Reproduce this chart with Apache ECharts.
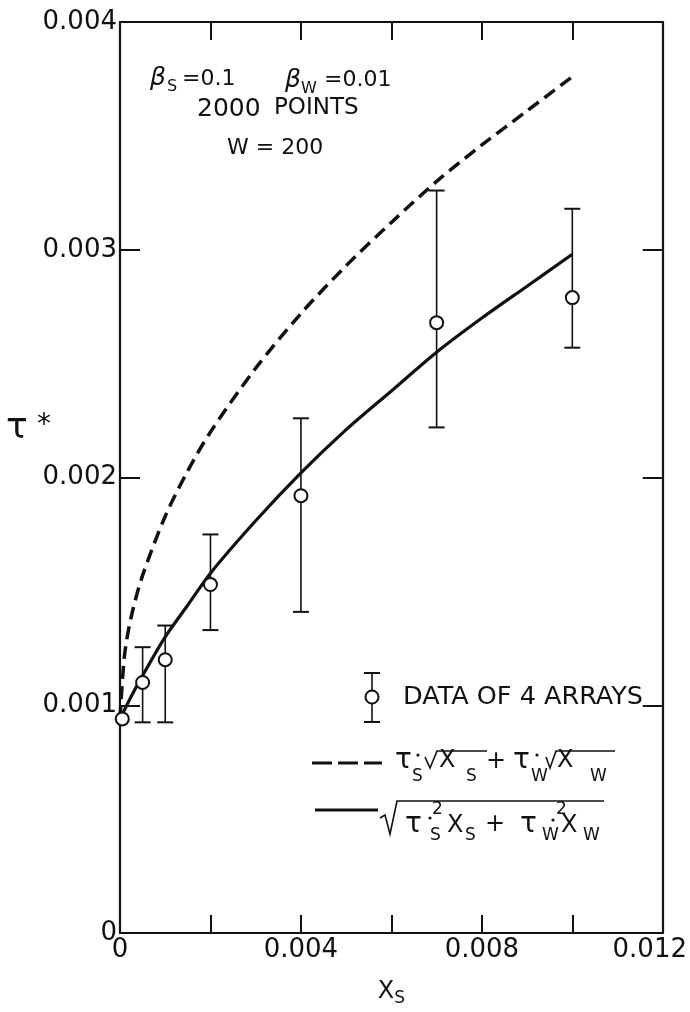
<!DOCTYPE html>
<html>
<head>
<meta charset="utf-8">
<script src="https://cdn.jsdelivr.net/npm/echarts@6/dist/echarts.min.js"></script>
<style>
  html, body { margin: 0; padding: 0; background: #ffffff; }
  #chart { width: 690px; height: 1012px; }
</style>
</head>
<body>
<div id="chart"></div>
<script>
// Tick labels shown on the axes
const xTickLabels = ['0', '0.004', '0.008', '0.012'];
const yTickLabels = ['0', '0.001', '0.002', '0.003', '0.004'];

// Stations along the two model curves (x = Xs, y = tau*)
const curveX        = [0, 0.0001, 0.00025, 0.0005, 0.001, 0.0015, 0.002, 0.003, 0.004, 0.005, 0.006, 0.007, 0.008, 0.009, 0.010];
const sumOfRoots    = [0.00094, 0.00122, 0.00139, 0.00157, 0.00183, 0.00203, 0.00220, 0.00248, 0.00272, 0.00293, 0.00312, 0.00330, 0.00346, 0.00361, 0.00376];
const rootOfSquares = [0.00094, 0.00098, 0.00104, 0.00113, 0.00130, 0.00144, 0.00158, 0.00181, 0.00202, 0.00221, 0.00238, 0.00255, 0.00270, 0.00284, 0.00298];

// Measured data of 4 arrays, with error bar limits
const pointX  = [0.00005, 0.0005, 0.001, 0.002, 0.004, 0.007, 0.010];
const pointY  = [0.00094, 0.00110, 0.00120, 0.00153, 0.00192, 0.00268, 0.00279];
const errLow  = [null, 0.000925, 0.000925, 0.00133, 0.00141, 0.00222, 0.00257];
const errHigh = [null, 0.001255, 0.00135, 0.00175, 0.00226, 0.00326, 0.00318];

const INK = '#111111';
const FONT = 'DejaVu Sans';

const chart = echarts.init(document.getElementById('chart'), null, { renderer: 'canvas' });

function pickLabel(list, v) {
  for (const l of list) {
    if (Math.abs(parseFloat(l) - v) < 1e-9) return l;
  }
  return '';
}

const errorBarData = [];
pointX.forEach((x, i) => {
  if (errLow[i] != null) errorBarData.push([x, errLow[i], errHigh[i]]);
});

const axisLineStyle = { color: INK, width: 2.2 };

// helpers for free-standing text pieces
function txt(text, x, y, size, extra) {
  return {
    type: 'text', z: 50,
    style: Object.assign({
      text: text, x: x, y: y, fill: INK,
      font: size + 'px "' + FONT + '"',
      align: 'left', verticalAlign: 'middle'
    }, extra || {})
  };
}
function seg(points, width, dash) {
  return {
    type: 'polyline', z: 50,
    shape: { points: points },
    style: { stroke: INK, lineWidth: width, fill: null, lineDash: dash || null }
  };
}
function dot(x, y, r) {
  return { type: 'circle', z: 50, shape: { cx: x, cy: y, r: r }, style: { fill: INK } };
}

const graphics = [
  // y-axis name tau*
  txt('τ', 6, 429, 36),
  txt('*', 37, 426, 28),

  // run parameters
  txt('β', 150, 78, 25, { font: 'italic 25px "' + FONT + '"' }),
  txt('S', 167, 87, 16),
  txt('=0.1', 182, 79, 22),
  txt('β', 285, 80, 25, { font: 'italic 25px "' + FONT + '"' }),
  txt('W', 301, 89, 16),
  txt('=0.01', 324, 80, 22),
  txt('2000', 197, 109, 25),
  txt('POINTS', 274, 108, 23),
  txt('W = 200', 227, 148, 22),

  // legend: data with error bar
  seg([[372, 673], [372, 722]], 1.6),
  seg([[364, 673], [380, 673]], 2),
  seg([[364, 722], [380, 722]], 2),
  { type: 'circle', z: 51, shape: { cx: 372, cy: 697, r: 6.5 }, style: { fill: '#fff', stroke: INK, lineWidth: 2 } },
  txt('DATA OF 4 ARRAYS', 403, 697, 25.5),

  // legend: dashed curve
  seg([[312, 763], [382, 763]], 3, [20, 6]),
  txt('τ', 395, 761, 28),
  dot(418, 755, 1.6),
  txt('S', 412, 777, 17),
  seg([[425, 757], [430, 768], [437, 751], [487, 751]], 1.6),
  txt('X', 439, 761, 24),
  txt('S', 466, 777, 17),
  txt('+', 486, 762, 24),
  txt('τ', 513, 761, 28),
  dot(537, 755, 1.6),
  txt('W', 531, 777, 17),
  seg([[546, 757], [550, 768], [556, 751], [615, 751]], 1.6),
  txt('X', 557, 761, 24),
  txt('W', 590, 777, 17),

  // legend: solid curve
  seg([[315, 810], [378, 810]], 3),
  seg([[380, 818], [385, 815], [390, 834], [397, 801], [604, 801]], 1.6),
  txt('τ', 405, 825, 28),
  dot(430, 818, 1.6),
  txt('2', 432, 810, 17),
  txt('S', 430, 836, 17),
  txt('X', 447, 826, 24),
  txt('S', 465, 836, 17),
  txt('+', 485, 825, 24),
  txt('τ', 520, 825, 28),
  dot(553, 820, 1.6),
  txt('2', 556, 810, 17),
  txt('W', 542, 836, 17),
  txt('X', 561, 826, 24),
  txt('W', 583, 836, 17)
];

const option = {
  backgroundColor: '#ffffff',
  animation: false,
  grid: { left: 120, right: 22, top: 22, bottom: 71, containLabel: false },
  xAxis: [
    {
      type: 'value', position: 'bottom', min: 0, max: 0.012, interval: 0.002,
      axisLine: { show: true, onZero: false, lineStyle: axisLineStyle },
      axisTick: { show: true, inside: true, length: 18, lineStyle: { color: INK, width: 2 } },
      splitLine: { show: false },
      axisLabel: {
        margin: 4, color: INK, fontFamily: FONT, fontSize: 26,
        formatter: function (v) {
          const l = pickLabel(xTickLabels, v);
          if (l === xTickLabels[xTickLabels.length - 1]) return '{last|' + l + '}';
          return l;
        },
        rich: { last: { fontFamily: FONT, fontSize: 26, color: INK, padding: [0, 26, 0, 0] } }
      },
      name: '{x|X}{s|S}', nameLocation: 'middle', nameGap: 43,
      nameTextStyle: {
        rich: {
          x: { fontFamily: FONT, fontSize: 24, color: INK },
          s: { fontFamily: FONT, fontSize: 17, color: INK, padding: [14, 0, 0, 0] }
        }
      }
    },
    {
      type: 'value', position: 'top', min: 0, max: 0.012, interval: 0.002,
      axisLine: { show: true, onZero: false, lineStyle: axisLineStyle },
      axisTick: { show: true, inside: true, length: 18, lineStyle: { color: INK, width: 2 } },
      axisLabel: { show: false }, splitLine: { show: false }
    }
  ],
  yAxis: [
    {
      type: 'value', position: 'left', min: 0, max: 0.004, interval: 0.001,
      axisLine: { show: true, onZero: false, lineStyle: axisLineStyle },
      axisTick: { show: true, inside: true, length: 20, lineStyle: { color: INK, width: 2 } },
      splitLine: { show: false },
      axisLabel: {
        margin: 3, color: INK, fontFamily: FONT, fontSize: 26,
        formatter: function (v) { return pickLabel(yTickLabels, v); }
      }
    },
    {
      type: 'value', position: 'right', min: 0, max: 0.004, interval: 0.001,
      axisLine: { show: true, onZero: false, lineStyle: axisLineStyle },
      axisTick: { show: true, inside: true, length: 20, lineStyle: { color: INK, width: 2 } },
      axisLabel: { show: false }, splitLine: { show: false }
    }
  ],
  series: [
    {
      name: 'sum of roots', type: 'line', xAxisIndex: 0, yAxisIndex: 0,
      data: curveX.map((x, i) => [x, sumOfRoots[i]]),
      smooth: 0.3, showSymbol: false, symbol: 'none',
      lineStyle: { color: INK, width: 3.5, type: [13, 7] }, z: 3
    },
    {
      name: 'root of squares', type: 'line', xAxisIndex: 0, yAxisIndex: 0,
      data: curveX.map((x, i) => [x, rootOfSquares[i]]),
      smooth: 0.3, showSymbol: false, symbol: 'none',
      lineStyle: { color: INK, width: 3.2 }, z: 3
    },
    {
      name: 'error bars', type: 'custom', xAxisIndex: 0, yAxisIndex: 0,
      data: errorBarData, encode: { x: 0, y: [1, 2] }, z: 4,
      renderItem: function (params, api) {
        const x = api.value(0);
        const lo = api.coord([x, api.value(1)]);
        const hi = api.coord([x, api.value(2)]);
        const w = 8;
        return {
          type: 'group',
          children: [
            { type: 'line', shape: { x1: lo[0], y1: lo[1], x2: hi[0], y2: hi[1] }, style: { stroke: INK, lineWidth: 1.6 } },
            { type: 'line', shape: { x1: lo[0] - w, y1: lo[1], x2: lo[0] + w, y2: lo[1] }, style: { stroke: INK, lineWidth: 2 } },
            { type: 'line', shape: { x1: hi[0] - w, y1: hi[1], x2: hi[0] + w, y2: hi[1] }, style: { stroke: INK, lineWidth: 2 } }
          ]
        };
      }
    },
    {
      name: 'data of 4 arrays', type: 'scatter', xAxisIndex: 0, yAxisIndex: 0,
      data: pointX.map((x, i) => [x, pointY[i]]),
      symbol: 'circle', symbolSize: 13, z: 6,
      itemStyle: { color: '#ffffff', borderColor: INK, borderWidth: 2, opacity: 1 }
    }
  ],
  graphic: graphics
};

chart.setOption(option);
</script>
</body>
</html>
